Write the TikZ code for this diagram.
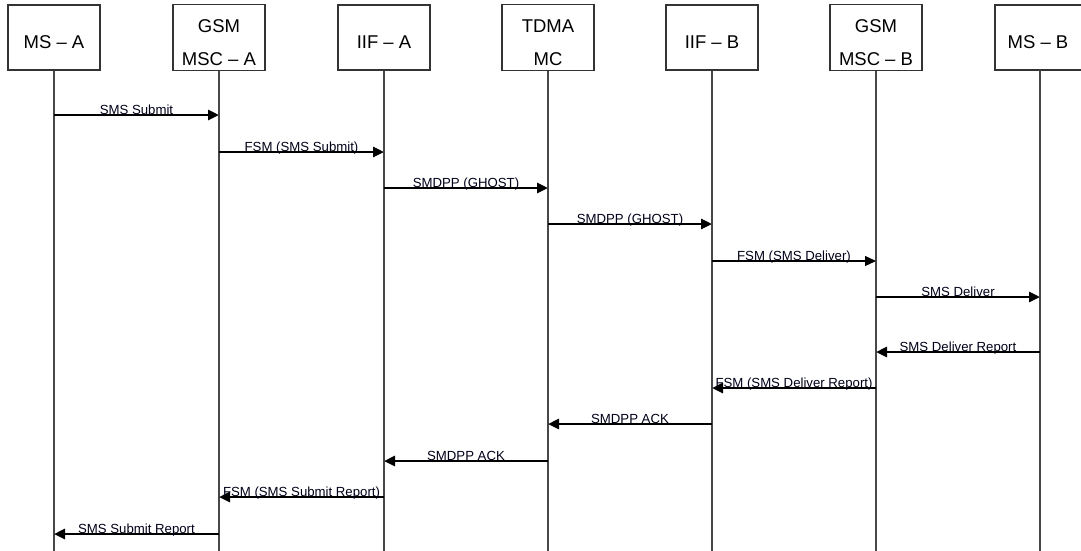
\documentclass[tikz,border=0pt]{standalone}
\usepackage{fontspec}
\setmainfont{Liberation Sans}
\usetikzlibrary{arrows.meta}
\newcommand{\hdr}[1]{\raisebox{-4.5pt}[\height][\depth]{\begin{tabular}{@{}c@{}}#1\end{tabular}}}
\begin{document}
\begin{tikzpicture}[x=1pt,y=-1pt,
  entity/.style={draw=black!80, line width=1.5pt, minimum width=92pt, minimum height=65pt,
    inner sep=0pt, fill=white, font=\fontsize{18.5}{33}\selectfont},
  life/.style={draw=black!72, line width=1.5pt},
  msg/.style={line width=2.7pt, -{Triangle[length=11pt,width=10pt]}},
  thinmsg/.style={line width=1.1pt, -{Triangle[length=11pt,width=10pt]}},
  lbl/.style={anchor=base, yshift=0.6pt, inner sep=0pt, text=black!90!blue, font=\fontsize{13.2}{15}\selectfont}]
\clip (0,0) rectangle (1081,550);
\fill[white] (0,0) rectangle (1081,550);
% entities
\node[entity] (e1) at (54,37.5)   {\hdr{MS – A}};
\node[entity] (e2) at (219,37.5)  {\hdr{GSM\\MSC – A}};
\node[entity] (e3) at (384,37.5)  {\hdr{IIF – A}};
\node[entity] (e4) at (548,37.5)  {\hdr{TDMA\\MC}};
\node[entity] (e5) at (712,37.5)  {\hdr{IIF – B}};
\node[entity] (e6) at (876,37.5)  {\hdr{GSM\\MSC – B}};
\node[entity, minimum width=130pt, anchor=west] (e7) at (994,37.5) {};
\coordinate (x1) at (e1.south);
\coordinate (x2) at (e2.south);
\coordinate (x3) at (e3.south);
\coordinate (x4) at (e4.south);
\coordinate (x5) at (e5.south);
\coordinate (x6) at (e6.south);
\coordinate (x7) at (1040,70);
\node[font=\fontsize{18.5}{33}\selectfont, inner sep=0pt] (t7) at (1038,42) {MS – B};
% lifelines
\foreach \i in {1,...,7} {
  \coordinate (b\i) at (x\i |- 0,552);
  \draw[life] (x\i) -- (b\i);
}
% messages
\foreach \yy/\a/\b/\t/\s in {
  115/x1/x2/SMS Submit/msg,
  152/x2/x3/FSM (SMS Submit)/msg,
  188/x3/x4/SMDPP (GHOST)/msg,
  224/x4/x5/SMDPP (GHOST)/msg,
  261/x5/x6/FSM (SMS Deliver)/thinmsg,
  297/x6/x7/SMS Deliver/msg,
  352/x7/x6/SMS Deliver Report/msg,
  388/x6/x5/FSM (SMS Deliver Report)/msg,
  424/x5/x4/SMDPP ACK/msg,
  461/x4/x3/SMDPP ACK/msg,
  497/x3/x2/FSM (SMS Submit Report)/msg,
  534/x2/x1/SMS Submit Report/msg} {
  \draw[\s] (\a |- 0,\yy) -- (\b |- 0,\yy) node[lbl, midway] {\t};
}
\end{tikzpicture}
\end{document}
